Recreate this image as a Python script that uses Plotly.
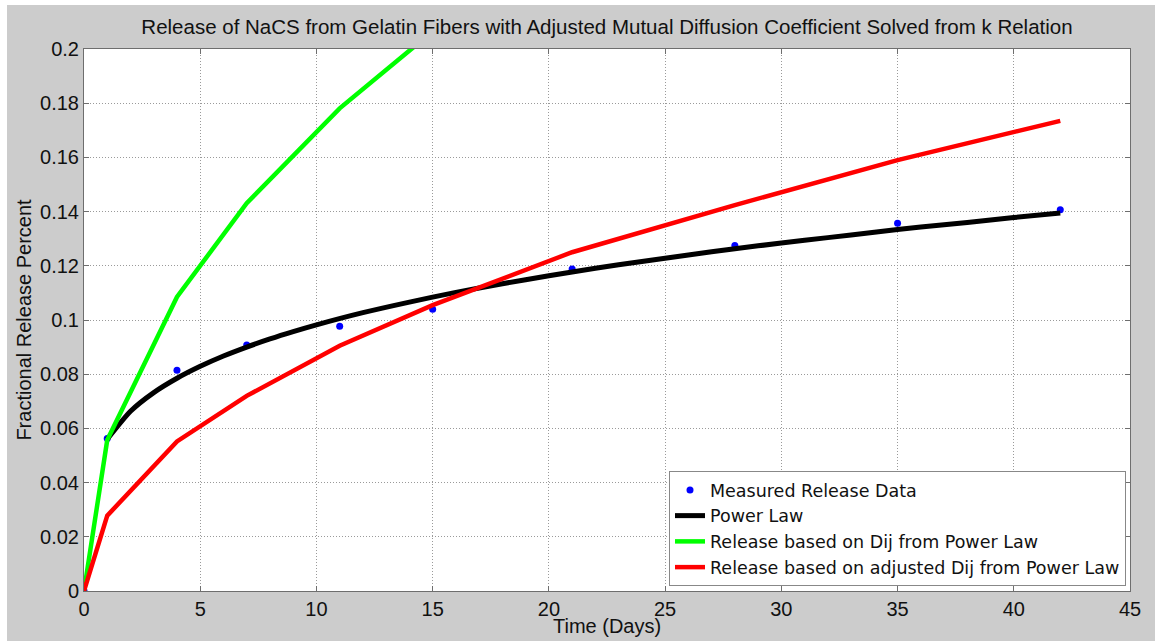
import plotly.graph_objects as go

# ---- data ----
measured_days = [0, 1, 4, 7, 11, 15, 21, 28, 35, 42]
measured_release = [0.0, 0.0563, 0.0815, 0.0908, 0.0977, 0.1040, 0.1188, 0.1275, 0.1357, 0.1407]

power_days = [1, 2, 3, 4, 5, 6, 7, 8, 9, 10, 12, 14, 16, 18, 20, 22, 24, 26, 28, 30, 32, 34, 36, 38, 40, 42]
power_release = [0.0560, 0.0663, 0.0732, 0.0785, 0.0829, 0.0867, 0.0900, 0.0930, 0.0957, 0.0982,
                 0.1027, 0.1066, 0.1102, 0.1134, 0.1163, 0.1191, 0.1216, 0.1240, 0.1263, 0.1284,
                 0.1304, 0.1324, 0.1343, 0.1360, 0.1378, 0.1395]

dij_days = [0, 1, 4, 7, 11, 15]
dij_release = [0.0, 0.0557, 0.1085, 0.1431, 0.1781, 0.2065]

adj_days = [0, 1, 4, 7, 11, 15, 21, 28, 35, 42]
adj_release = [0.0, 0.0278, 0.0552, 0.0720, 0.0905, 0.1055, 0.1250, 0.1424, 0.1590, 0.1735]

x_ticks = [0, 5, 10, 15, 20, 25, 30, 35, 40, 45]
y_ticks = [0, 0.02, 0.04, 0.06, 0.08, 0.1, 0.12, 0.14, 0.16, 0.18, 0.2]
y_tick_text = ["0", "0.02", "0.04", "0.06", "0.08", "0.1", "0.12", "0.14", "0.16", "0.18", "0.2"]

title_text = "Release of NaCS from Gelatin Fibers with Adjusted Mutual Diffusion Coefficient Solved from k Relation"
x_title = "Time (Days)"
y_title = "Fractional Release Percent"
names = ["Measured Release Data", "Power Law", "Release based on Dij from Power Law",
         "Release based on adjusted Dij from Power Law"]

FONT = "Liberation Sans, Arial, sans-serif"
LEG_FONT = "DejaVu Sans, Liberation Sans, sans-serif"
FS = 20
TXT = "#111111"
W, H = 1155, 641
L, R, T, B = 84, 25, 49, 50

fig = go.Figure()
fig.add_trace(go.Scatter(x=measured_days, y=measured_release, mode="markers", name=names[0],
                         marker=dict(color="#0000ff", size=7)))
fig.add_trace(go.Scatter(x=power_days, y=power_release, mode="lines", name=names[1],
                         line=dict(color="#000000", width=5, shape="spline", smoothing=0.6)))
fig.add_trace(go.Scatter(x=dij_days, y=dij_release, mode="lines", name=names[2],
                         line=dict(color="#00ff00", width=4.5)))
fig.add_trace(go.Scatter(x=adj_days, y=adj_release, mode="lines", name=names[3],
                         line=dict(color="#ff0000", width=4.5)))

pw = W - L - R
ph = H - T - B
# thin white strips at the top and left edges of the grey figure
fig.add_shape(type="rect", xref="paper", yref="paper", layer="above",
              x0=-L / pw, x1=(W - L) / pw, y0=(H - 5 - B) / ph, y1=(H - B + 2) / ph,
              fillcolor="#ffffff", line=dict(width=0))
fig.add_shape(type="rect", xref="paper", yref="paper", layer="above",
              x0=-L / pw - 0.01, x1=(7 - L) / pw, y0=-B / ph - 0.01, y1=(H - B) / ph,
              fillcolor="#ffffff", line=dict(width=0))

axis_common = dict(showline=True, linecolor="#6e6e6e", linewidth=1, mirror="ticks",
                   ticks="inside", ticklen=5, tickcolor="#6e6e6e",
                   showgrid=True, gridcolor="#9a9a9a", gridwidth=1, griddash="1px,2px",
                   zeroline=False, tickfont=dict(family=FONT, size=FS, color=TXT))

fig.update_xaxes(range=[0, 45], tickvals=x_ticks, **axis_common)
fig.update_yaxes(range=[0, 0.2], tickvals=y_ticks, ticktext=y_tick_text,
                 title=dict(text=y_title, font=dict(family=FONT, size=FS, color=TXT), standoff=3),
                 **axis_common)

# x-axis title placed precisely
fig.add_annotation(text=x_title, xref="paper", yref="paper", x=0.5, y=-(626 - (H - B)) / ph,
                   xanchor="center", yanchor="middle", showarrow=False,
                   font=dict(family=FONT, size=FS, color=TXT))

fig.update_layout(
    width=W, height=H,
    margin=dict(l=L, r=R, t=T, b=B, autoexpand=False),
    paper_bgcolor="#cccccc", plot_bgcolor="#ffffff",
    title=dict(text=title_text, x=0.5, xref="paper", y=1 - 27 / H, yref="container",
               xanchor="center", yanchor="middle",
               font=dict(family=FONT, size=20.5, color=TXT)),
    showlegend=True,
    legend=dict(x=(1126 - L) / pw, xanchor="right", y=5 / ph, yanchor="bottom",
                bgcolor="#ffffff", bordercolor="#888888", borderwidth=1,
                font=dict(family=LEG_FONT, size=17.5, color=TXT),
                tracegroupgap=0, itemwidth=30),
)

fig.write_html("out.html")
